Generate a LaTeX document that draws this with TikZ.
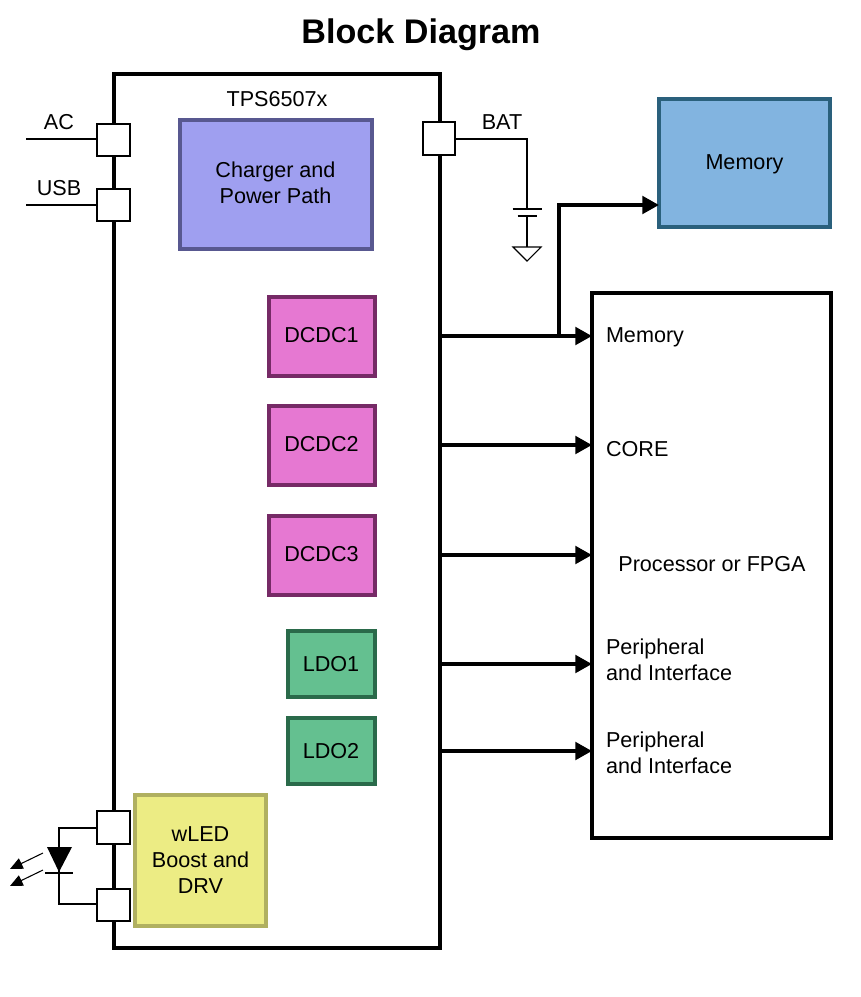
\documentclass[tikz,border=0pt]{standalone}
\usepackage{fontspec}
\setmainfont{Liberation Sans}
\usetikzlibrary{arrows.meta,shapes.geometric}
\definecolor{chargerfill}{HTML}{9F9FF0}
\definecolor{chargerline}{HTML}{585890}
\definecolor{memfill}{HTML}{82B4E0}
\definecolor{memline}{HTML}{2A607C}
\definecolor{dcfill}{HTML}{E678D2}
\definecolor{dcline}{HTML}{762A66}
\definecolor{ldofill}{HTML}{64C090}
\definecolor{ldoline}{HTML}{2A6A4A}
\definecolor{ledfill}{HTML}{ECEC84}
\definecolor{ledline}{HTML}{B0B060}
\tikzset{
  x=0.75pt,y=-0.75pt,
  every node/.style={font=\fontsize{16.2pt}{19.5pt}\selectfont,align=center,inner sep=0pt,outer sep=0pt},
  sized/.style n args={2}{minimum width=#1*0.75pt,minimum height=#2*0.75pt},
  frame/.style={draw=black,line width=3pt,fill=white},
  block/.style={line width=3pt},
  pin/.style={draw=black,line width=1.5pt,fill=white,minimum width=24.6pt,minimum height=24.6pt},
  wire/.style={draw=black,line width=1.35pt},
  thinwire/.style={draw=black,line width=0.8pt},
  bus/.style={draw=black,line width=3pt,-{Triangle[length=12.5pt,width=13pt]}},
  emit/.style={draw=black,line width=0.8pt,-{Triangle[length=9.5pt,width=8.5pt]}},
}
\begin{document}
\begin{tikzpicture}
\useasboundingbox (0,0) rectangle (861,997);
\node[font=\fontsize{25.6pt}{30pt}\selectfont\bfseries] (title) at (421,35) {Block Diagram};
% main frames
\node[frame,sized={326}{874}] (chip) at (277,511) {};
\node[frame,sized={239}{545}] (proc) at (711.5,565.5) {};
% blocks
\node[block,draw=chargerline,fill=chargerfill,sized={192}{129}] (charger) at (275.5,184) {};
\node (chargertext) at (275.5,183) {Charger and\\Power Path};
\node[block,draw=memline,fill=memfill,sized={171}{128}] (mem) at (744.5,162.5) {};
\node (memtext) at (744.5,164) {Memory};
\node[block,draw=dcline,fill=dcfill,sized={106}{79}] (dcdc1) at (321.5,336) {};
\node (dc1text) at (321.5,335) {DCDC1};
\node[block,draw=dcline,fill=dcfill,sized={106}{79}] (dcdc2) at (321.5,445) {};
\node (dc2text) at (321.5,444) {DCDC2};
\node[block,draw=dcline,fill=dcfill,sized={106}{79}] (dcdc3) at (321.5,555) {};
\node (dc3text) at (321.5,554) {DCDC3};
\node[block,draw=ldoline,fill=ldofill,sized={87}{66}] (ldo1) at (331,664) {LDO1};
\node[block,draw=ldoline,fill=ldofill,sized={87}{66}] (ldo2) at (331,751) {LDO2};
\node[block,draw=ledline,fill=ledfill,sized={131}{131}] (wled) at (200.5,860) {wLED\\Boost and\\DRV};
% pins
\node[pin] (pac) at (113.5,140) {};
\node[pin] (pusb) at (113.5,205) {};
\node[pin] (pbat) at (439,138.5) {};
\node[pin] (pled1) at (113.5,827.5) {};
\node[pin] (pled2) at (113.5,905) {};
% labels
\node (tps) at (277,99) {TPS6507x};
\node (lac) at (59,122) {AC};
\node (lusb) at (59,188) {USB};
\node (lbat) at (502,122) {BAT};
\node (lmem) [anchor=west] at (606,337) {Memory};
\node (lcore) [anchor=west] at (606,449) {CORE};
\node (lproc) at (712,564) {Processor or FPGA};
\node (lper1) [anchor=west,align=left] at (606,660) {Peripheral\\and Interface};
\node (lper2) [anchor=west,align=left] at (606,753) {Peripheral\\and Interface};
% AC, USB leads
\coordinate (acend) at (26,139);
\coordinate (usbend) at (26,205);
\draw[wire] (acend) -- (pac.west |- acend);
\draw[wire] (usbend) -- (pusb.west);
% battery
\coordinate (batcorner) at (527,139);
\coordinate (capa) at (527,209);
\coordinate (capb) at (527,216);
\coordinate (gnd) at (527,247);
\draw[wire,line join=miter] (pbat.east |- batcorner) -- (batcorner) -- (capa);
\draw[wire] ([xshift=-14.5*0.75pt]capa) -- ([xshift=14.5*0.75pt]capa);
\draw[wire] ([xshift=-9.5*0.75pt]capb) -- ([xshift=9.5*0.75pt]capb);
\draw[wire] (capb) -- (gnd);
\draw[thinwire,line join=miter] (513,247) -- (541,247) -- (527,261) -- cycle;
% buses
\draw[bus] (chip.east |- dcdc1) -- (proc.west |- dcdc1);
\draw[bus] (chip.east |- dcdc2) -- (proc.west |- dcdc2);
\draw[bus] (chip.east |- dcdc3) -- (proc.west |- dcdc3);
\draw[bus] (chip.east |- ldo1) -- (proc.west |- ldo1);
\draw[bus] (chip.east |- ldo2) -- (proc.west |- ldo2);
\coordinate (busup) at (559,336);
\coordinate (busturn) at (559,205);
\draw[bus,line join=miter] (busup) -- (busturn) -- (mem.west |- busturn);
% LED
\coordinate (ledtop) at (59,828);
\coordinate (ledbot) at (59,904);
\coordinate (ledk) at (59,872);
\draw[wire,line join=miter] (pled1.west |- ledtop) -- (ledtop) -- (ledbot) -- (pled2.west |- ledbot);
\fill[black] (47,847) -- (72,847) -- (59,872) -- cycle;
\draw[wire] (45,873) -- (73,873);
\draw[emit] (43,853) -- (10,869);
\draw[emit] (43,870) -- (10,886);
\end{tikzpicture}
\end{document}
